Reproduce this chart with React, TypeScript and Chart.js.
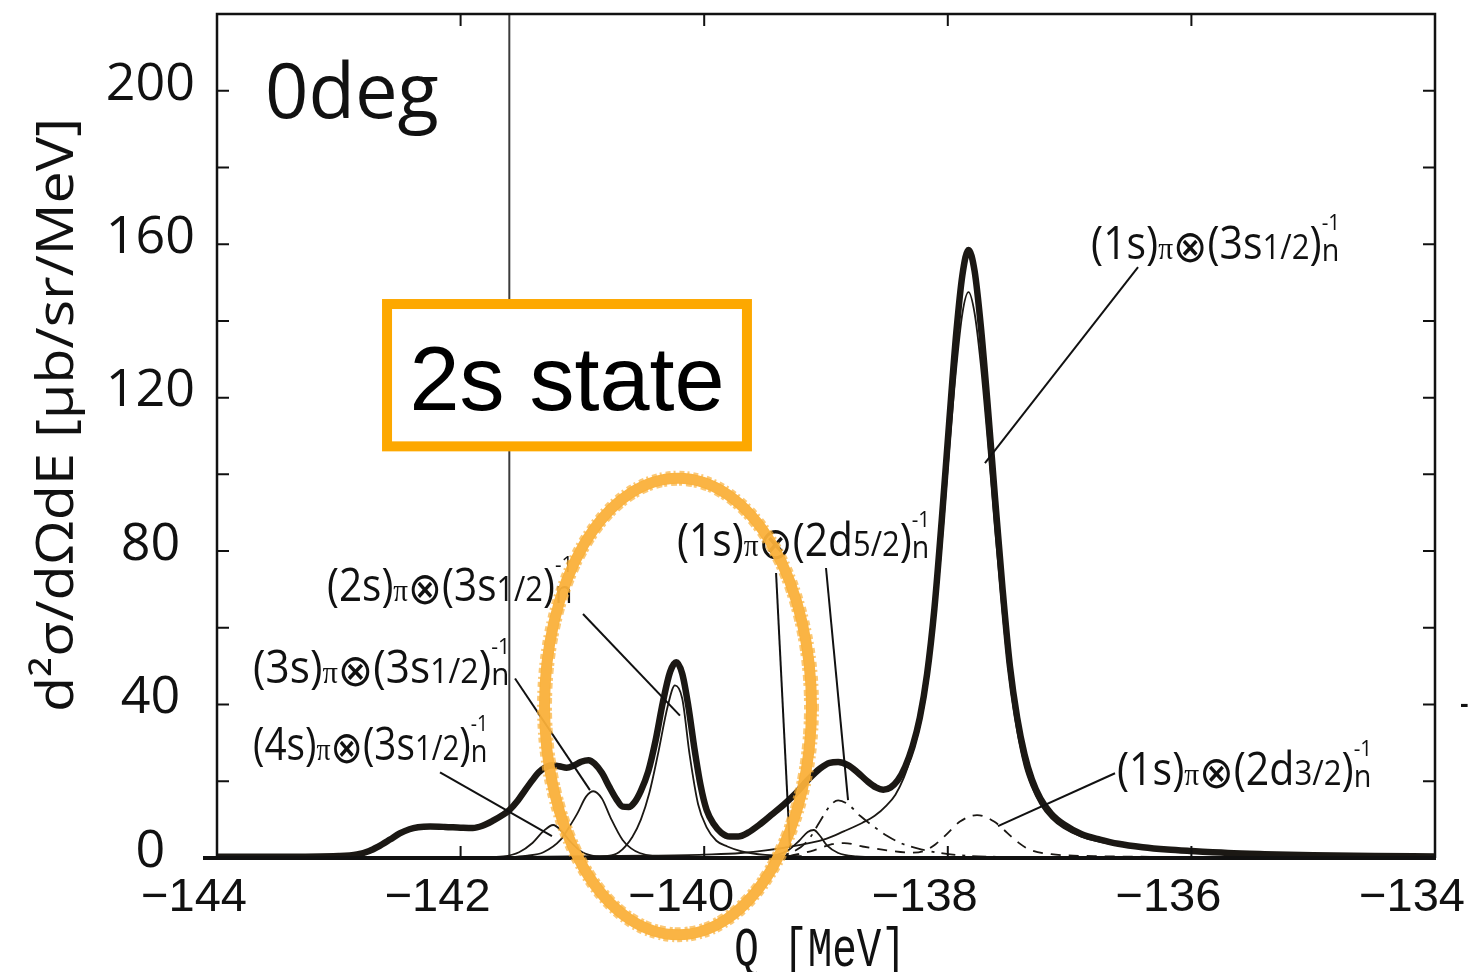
import React, { useEffect, useRef } from "react";
import { Chart, registerables } from "chart.js";

Chart.register(...registerables);

// ---------- axes ----------
const Q_MIN = -144;
const Q_MAX = -134;
const Y_MIN = 0;
const Y_MAX = 220;
const X_TICK_LABELS = [-144, -142, -140, -138, -136, -134];
const Y_TICK_LABELS = [0, 40, 80, 120, 160, 200];
const X_TICK_MARKS = [-142, -140, -138, -136];
const Y_TICK_MARKS = [20, 40, 60, 80, 100, 120, 140, 160, 180, 200];
const MARKER_Q = -141.6;

// ---------- series: [Q (MeV), d2sigma/dOmega dE] ----------
const TOTAL = [
  [-144.0, 0.3], [-143.5, 0.3], [-143.0, 0.5], [-142.85, 0.9], [-142.75, 1.8], [-142.68, 2.9],
  [-142.58, 4.8], [-142.5, 6.4], [-142.42, 7.5], [-142.35, 8.0], [-142.25, 8.2], [-142.13, 8.1],
  [-142.0, 7.9], [-141.9, 7.8], [-141.82, 8.4], [-141.73, 9.8], [-141.65, 11.3], [-141.6, 12.5],
  [-141.53, 15.0], [-141.47, 17.7], [-141.41, 20.3], [-141.36, 22.3], [-141.3, 23.7], [-141.25, 24.2],
  [-141.19, 23.9], [-141.13, 23.5], [-141.07, 24.1], [-141.01, 25.1], [-140.95, 25.5], [-140.9, 24.6],
  [-140.84, 22.2], [-140.78, 18.6], [-140.72, 15.3], [-140.67, 13.4], [-140.62, 13.3], [-140.57, 14.6],
  [-140.52, 17.5], [-140.46, 22.5], [-140.4, 30.5], [-140.34, 40.5], [-140.28, 48.5], [-140.23, 51.0],
  [-140.18, 48.0], [-140.13, 39.5], [-140.08, 28.5], [-140.03, 19.0], [-139.98, 12.5], [-139.92, 8.8],
  [-139.86, 6.6], [-139.79, 5.6], [-139.72, 5.6], [-139.64, 6.6], [-139.55, 8.6], [-139.45, 11.2],
  [-139.35, 13.8], [-139.25, 16.8], [-139.15, 20.3], [-139.05, 23.3], [-138.97, 24.8], [-138.9, 25.0],
  [-138.82, 24.2], [-138.74, 22.3], [-138.66, 20.0], [-138.59, 18.4], [-138.53, 17.8], [-138.47, 18.4],
  [-138.41, 20.3], [-138.35, 23.8], [-138.29, 29.0], [-138.23, 36.5], [-138.17, 48.0], [-138.11, 65.0],
  [-138.05, 88.0], [-137.99, 113.0], [-137.93, 137.0], [-137.88, 152.0], [-137.83, 158.5], [-137.78, 153.0],
  [-137.73, 139.0], [-137.67, 117.0], [-137.61, 93.0], [-137.55, 70.0], [-137.49, 50.0], [-137.43, 36.5],
  [-137.37, 27.0], [-137.31, 20.5], [-137.24, 15.5], [-137.15, 11.5], [-137.05, 8.8], [-136.9, 6.2],
  [-136.75, 4.8], [-136.6, 3.7], [-136.4, 2.8], [-136.2, 2.2], [-136.0, 1.8], [-135.7, 1.3],
  [-135.4, 1.0], [-135.0, 0.7], [-134.5, 0.5], [-134.0, 0.4],
];

const S1_3S12 = [
  [-144.0, 0.1], [-141.5, 0.3], [-140.5, 0.6], [-140.0, 0.9], [-139.7, 1.3], [-139.3, 2.9],
  [-139.0, 5.0], [-138.85, 7.0], [-138.7, 9.2], [-138.6, 11.0], [-138.5, 13.8], [-138.43, 16.5],
  [-138.36, 21.0], [-138.3, 26.5], [-138.23, 34.5], [-138.17, 45.0], [-138.11, 61.0], [-138.05, 82.0],
  [-137.99, 106.0], [-137.93, 128.0], [-137.88, 142.0], [-137.83, 147.5], [-137.78, 142.0], [-137.73, 129.0],
  [-137.67, 108.0], [-137.61, 85.0], [-137.55, 64.0], [-137.49, 46.0], [-137.43, 33.0], [-137.37, 24.0],
  [-137.31, 18.5], [-137.24, 14.0], [-137.15, 10.3], [-137.05, 7.8], [-136.9, 5.5], [-136.75, 4.2],
  [-136.6, 3.3], [-136.4, 2.5], [-136.2, 1.9], [-136.0, 1.5], [-135.5, 0.9], [-135.0, 0.6],
  [-134.5, 0.4], [-134.0, 0.3],
];

const S2_3S12 = [
  [-141.0, 0.2], [-140.8, 0.5], [-140.7, 1.5], [-140.59, 5.5], [-140.52, 10.0], [-140.45, 17.0],
  [-140.38, 27.0], [-140.3, 39.5], [-140.24, 45.0], [-140.18, 41.5], [-140.12, 27.0], [-140.05, 14.0],
  [-139.98, 8.0], [-139.9, 4.5], [-139.81, 3.0], [-139.7, 1.8], [-139.5, 0.8], [-139.2, 0.5],
];

const S3_3S12 = [
  [-141.6, 0.2], [-141.45, 0.6], [-141.32, 1.5], [-141.18, 4.7], [-141.1, 8.5], [-141.04, 11.7],
  [-140.97, 16.0], [-140.91, 17.4], [-140.84, 15.5], [-140.77, 10.6], [-140.67, 4.7], [-140.6, 2.5],
  [-140.53, 1.3], [-140.4, 0.4], [-140.2, 0.2],
];

const S4_3S12 = [
  [-141.85, 0.1], [-141.65, 0.4], [-141.52, 1.5], [-141.41, 3.9], [-141.32, 7.0], [-141.24, 8.6],
  [-141.17, 7.0], [-141.1, 4.3], [-141.0, 1.5], [-140.88, 0.4], [-140.7, 0.1],
];

const S1_2D52 = [
  [-139.5, 0.3], [-139.3, 1.2], [-139.15, 4.5], [-139.05, 9.5], [-138.97, 13.5], [-138.9, 15.0],
  [-138.82, 14.0], [-138.72, 11.0], [-138.6, 8.0], [-138.5, 5.8], [-138.38, 3.8], [-138.25, 2.5],
  [-138.1, 1.5], [-137.9, 0.7], [-137.6, 0.3], [-137.0, 0.1],
];

const S1_2D52_B = [
  [-139.45, 0.4], [-139.32, 1.8], [-139.22, 4.5], [-139.15, 6.8], [-139.1, 7.3], [-139.05, 5.8],
  [-138.99, 3.2], [-138.9, 1.3], [-138.75, 0.4], [-138.5, 0.1],
];

const S1_2D32 = [
  [-139.3, 0.5], [-139.1, 2.0], [-138.95, 3.6], [-138.85, 3.9], [-138.7, 3.0], [-138.5, 2.0],
  [-138.3, 1.4], [-138.2, 1.8], [-138.1, 3.6], [-138.0, 6.5], [-137.9, 9.5], [-137.76, 11.2],
  [-137.62, 9.5], [-137.51, 6.5], [-137.42, 4.0], [-137.33, 2.2], [-137.15, 1.0], [-136.8, 0.5],
  [-136.3, 0.3], [-135.5, 0.2], [-134.5, 0.1],
];

// ---------- annotations (data coordinates) ----------
const LABELS = [
  { pre: "(1s)", core: "(3s", frac: "1/2", q: -136.824, v: 156.1, dq: 2.044 },
  { pre: "(1s)", core: "(2d", frac: "5/2", q: -140.223, v: 78.7, dq: 2.077 },
  { pre: "(2s)", core: "(3s", frac: "1/2", q: -143.097, v: 67.0, dq: 2.02 },
  { pre: "(3s)", core: "(3s", frac: "1/2", q: -143.704, v: 45.7, dq: 2.11 },
  { pre: "(4s)", core: "(3s", frac: "1/2", q: -143.704, v: 25.5, dq: 1.929 },
  { pre: "(1s)", core: "(2d", frac: "3/2", q: -136.611, v: 19.0, dq: 2.094 },
];
const LEADERS = [
  [-136.438, 154.0, -137.695, 102.9],
  [-139.41, 74.3, -139.296, 2.6],
  [-139.0, 75.6, -138.819, 15.1],
  [-140.995, 63.6, -140.199, 37.1],
  [-141.553, 46.8, -140.938, 17.7],
  [-142.169, 22.3, -141.25, 5.7],
  [-136.627, 22.1, -137.588, 8.3],
];
const ANGLE_TEXT = { text: "0deg", q: -143.606, v: 193.0 };
const STATE_BOX = { text: "2s state", q1: -142.604, q2: -139.649, v1: 144.4, v2: 107.3, tq: -141.126, tv: 116.9 };
const CIRCLE = { q: -140.215, v: 39.5, dq: 1.096, dv: 59.5 };
const Y_TITLE = "d²σ/dΩdE [μb/sr/MeV]";
const X_TITLE = "Q [MeV]";

const INK = "#1b1814";

function drawRich(ctx: CanvasRenderingContext2D, px: number, py: number, wpx: number, lab: any) {
  const S = 45;
  const parts = [
    { t: lab.pre, f: `${S}px "Open Sans", sans-serif`, dy: 0 },
    { t: "π", f: `${S * 0.72}px "Liberation Serif", serif`, dy: 0 },
    { t: "⊗", f: `${S * 1.0}px "DejaVu Sans", sans-serif`, dy: 3 },
    { t: lab.core, f: `${S}px "Open Sans", sans-serif`, dy: 0 },
    { t: lab.frac, f: `${S * 0.76}px "Open Sans", sans-serif`, dy: 0 },
    { t: ")", f: `${S}px "Open Sans", sans-serif`, dy: 0 },
    { t: "n", f: `${S * 0.7}px "Open Sans", sans-serif`, dy: 2 },
  ];
  const sup = { t: "-1", f: `${S * 0.5}px "Open Sans", sans-serif`, dy: -29 };
  const widths: number[] = [];
  let total = 0;
  for (const p of parts) {
    ctx.font = p.f;
    const w = ctx.measureText(p.t).width;
    widths.push(w);
    total += w;
  }
  ctx.font = sup.f;
  const supW = ctx.measureText(sup.t).width;
  total += Math.max(0, supW - widths[widths.length - 1]);
  const sx = wpx / total;
  ctx.save();
  ctx.translate(px, py);
  ctx.scale(sx, 1);
  ctx.fillStyle = "#111";
  ctx.textAlign = "left";
  ctx.textBaseline = "alphabetic";
  let cx = 0;
  let nStart = 0;
  parts.forEach((p, i) => {
    ctx.font = p.f;
    if (i === parts.length - 1) nStart = cx;
    ctx.fillText(p.t, cx, p.dy);
    cx += widths[i];
  });
  ctx.font = sup.f;
  ctx.fillText(sup.t, nStart, sup.dy);
  ctx.restore();
}

const decor = {
  id: "decor",
  beforeDatasetsDraw(chart: any) {
    const { ctx, chartArea: a, scales } = chart;
    const vx = scales.x.getPixelForValue(MARKER_Q);
    ctx.save();
    ctx.strokeStyle = "#3c3c3c";
    ctx.lineWidth = 2;
    ctx.beginPath();
    ctx.moveTo(vx, a.top);
    ctx.lineTo(vx, a.bottom);
    ctx.stroke();
    ctx.restore();
  },
  afterDatasetsDraw(chart: any) {
    const { ctx, chartArea: a, scales } = chart;
    const X = (q: number) => scales.x.getPixelForValue(q);
    const Y = (v: number) => scales.y.getPixelForValue(v);
    ctx.save();
    // frame
    ctx.strokeStyle = "#111";
    ctx.lineWidth = 2.5;
    ctx.beginPath();
    ctx.moveTo(a.left, a.bottom);
    ctx.lineTo(a.left, a.top);
    ctx.lineTo(a.right, a.top);
    ctx.lineTo(a.right, a.bottom);
    ctx.stroke();
    ctx.lineWidth = 4;
    ctx.beginPath();
    ctx.moveTo(a.left - 14, a.bottom);
    ctx.lineTo(a.right + 1, a.bottom);
    ctx.stroke();
    // inner ticks
    ctx.lineWidth = 2;
    const TL = 12;
    for (const v of Y_TICK_MARKS) {
      const py = Y(v);
      ctx.beginPath();
      ctx.moveTo(a.left, py);
      ctx.lineTo(a.left + TL, py);
      ctx.moveTo(a.right, py);
      ctx.lineTo(a.right - TL, py);
      ctx.stroke();
    }
    for (const q of X_TICK_MARKS) {
      const px = X(q);
      ctx.beginPath();
      ctx.moveTo(px, a.bottom);
      ctx.lineTo(px, a.bottom - TL);
      ctx.moveTo(px, a.top);
      ctx.lineTo(px, a.top + TL);
      ctx.stroke();
    }
    // leader lines
    ctx.strokeStyle = "#111";
    ctx.lineWidth = 2;
    for (const [q1, v1, q2, v2] of LEADERS) {
      ctx.beginPath();
      ctx.moveTo(X(q1), Y(v1));
      ctx.lineTo(X(q2), Y(v2));
      ctx.stroke();
    }
    // labels
    for (const lab of LABELS) {
      drawRich(ctx, X(lab.q), Y(lab.v), X(lab.q + lab.dq) - X(lab.q), lab);
    }
    // angle text
    ctx.fillStyle = "#111";
    ctx.font = '76px "Open Sans", sans-serif';
    ctx.textAlign = "left";
    ctx.textBaseline = "alphabetic";
    ctx.fillText(ANGLE_TEXT.text, X(ANGLE_TEXT.q), Y(ANGLE_TEXT.v));
    // state box
    const bx1 = X(STATE_BOX.q1), bx2 = X(STATE_BOX.q2);
    const by1 = Y(STATE_BOX.v1), by2 = Y(STATE_BOX.v2);
    ctx.fillStyle = "#ffffff";
    ctx.fillRect(bx1, by1, bx2 - bx1, by2 - by1);
    ctx.strokeStyle = "#fda800";
    ctx.lineWidth = 10;
    ctx.strokeRect(bx1, by1, bx2 - bx1, by2 - by1);
    ctx.fillStyle = "#000";
    ctx.font = '90px "Liberation Sans", Arial, sans-serif';
    ctx.textAlign = "center";
    ctx.fillText(STATE_BOX.text, X(STATE_BOX.tq), Y(STATE_BOX.tv));
    ctx.restore();
  },
  afterDraw(chart: any) {
    const { ctx, scales } = chart;
    const X = (q: number) => scales.x.getPixelForValue(q);
    const Y = (v: number) => scales.y.getPixelForValue(v);
    ctx.save();
    // hand-drawn ellipse
    const cx = X(CIRCLE.q), cy = Y(CIRCLE.v);
    const rx = X(CIRCLE.q + CIRCLE.dq) - cx;
    const ry = cy - Y(CIRCLE.v + CIRCLE.dv);
    ctx.strokeStyle = "rgba(250,176,58,0.95)";
    ctx.lineWidth = 11;
    ctx.beginPath();
    ctx.ellipse(cx, cy, rx, ry, 0, 0, Math.PI * 2);
    ctx.stroke();
    ctx.lineWidth = 3;
    ctx.strokeStyle = "rgba(250,176,58,0.7)";
    ctx.setLineDash([5, 3, 2, 4]);
    ctx.beginPath();
    ctx.ellipse(cx, cy, rx + 6, ry + 6, 0, 0, Math.PI * 2);
    ctx.stroke();
    ctx.setLineDash([3, 4, 6, 2]);
    ctx.beginPath();
    ctx.ellipse(cx, cy, rx - 6, ry - 6, 0, 0, Math.PI * 2);
    ctx.stroke();
    ctx.setLineDash([]);
    // y title
    ctx.fillStyle = "#111";
    ctx.font = '52px "Open Sans", sans-serif';
    ctx.textAlign = "center";
    ctx.textBaseline = "alphabetic";
    const tw = ctx.measureText(Y_TITLE).width;
    ctx.save();
    ctx.translate(73, 415);
    ctx.rotate(-Math.PI / 2);
    ctx.scale(594 / tw, 1);
    ctx.fillText(Y_TITLE, 0, 0);
    ctx.restore();
    // x title
    ctx.save();
    ctx.font = '56px "Liberation Mono", monospace';
    ctx.translate(820, 966);
    ctx.scale(0.73, 1);
    ctx.fillText(X_TITLE, 0, 0);
    ctx.restore();
    // stray mark at right edge
    ctx.font = 'bold 26px "Liberation Sans", sans-serif';
    ctx.textAlign = "left";
    ctx.fillText("-", 1460, 712);
    ctx.restore();
  },
};

const toPts = (arr: number[][]) => arr.map(([x, y]) => ({ x, y }));

export default function App() {
  const ref = useRef<HTMLCanvasElement | null>(null);
  useEffect(() => {
    document.body.style.margin = "0";
    document.body.style.overflow = "hidden";
    const canvas = ref.current!;
    const thin = (data: number[][], dash: number[] = []) => ({
      data: toPts(data),
      borderColor: INK,
      borderWidth: 1.8,
      borderDash: dash,
      pointRadius: 0,
      cubicInterpolationMode: "monotone" as const,
      fill: false,
    });
    const chart = new Chart(canvas, {
      type: "line",
      data: {
        datasets: [
          {
            label: "total",
            data: toPts(TOTAL),
            borderColor: INK,
            borderWidth: 6.5,
            pointRadius: 0,
            cubicInterpolationMode: "monotone",
            fill: false,
          },
          { label: "(1s)π⊗(3s1/2)n-1", ...thin(S1_3S12) },
          { label: "(2s)π⊗(3s1/2)n-1", ...thin(S2_3S12) },
          { label: "(3s)π⊗(3s1/2)n-1", ...thin(S3_3S12) },
          { label: "(4s)π⊗(3s1/2)n-1", ...thin(S4_3S12) },
          { label: "(1s)π⊗(2d5/2)n-1", ...thin(S1_2D52, [14, 7, 3, 7]) },
          { label: "(1s)π⊗(2d5/2)n-1 b", ...thin(S1_2D52_B) },
          { label: "(1s)π⊗(2d3/2)n-1", ...thin(S1_2D32, [10, 8]) },
        ] as any,
      },
      options: {
        animation: false,
        responsive: false,
        devicePixelRatio: 1,
        layout: { padding: { top: 14, right: 35, left: 0, bottom: 0 } },
        plugins: { legend: { display: false }, tooltip: { enabled: false } },
        scales: {
          x: {
            type: "linear",
            min: Q_MIN,
            max: Q_MAX,
            grid: { display: false, drawTicks: false },
            border: { display: false },
            afterBuildTicks: (s: any) => {
              s.ticks = X_TICK_LABELS.map((v) => ({ value: v }));
            },
            afterFit: (s: any) => {
              s.height = 114;
              s.paddingLeft = 0;
              s.paddingRight = 0;
            },
            ticks: {
              callback: (v: any) => (Number(v) < 0 ? "\u2212" + Math.abs(Number(v)) : String(v)),
              font: { family: '"Liberation Sans", Arial, sans-serif', size: 47 },
              color: "#111",
              padding: 12,
              labelOffset: -23,
              maxRotation: 0,
              autoSkip: false,
            },
          },
          y: {
            type: "linear",
            min: Y_MIN,
            max: Y_MAX,
            grid: { display: false, drawTicks: false },
            border: { display: false },
            afterBuildTicks: (s: any) => {
              s.ticks = Y_TICK_LABELS.map((v) => ({ value: v }));
            },
            afterFit: (s: any) => {
              s.width = 217;
              s.paddingTop = 0;
              s.paddingBottom = 0;
            },
            ticks: {
              font: { family: '"Open Sans", sans-serif', size: 52 },
              color: "#111",
              crossAlign: "center",
              padding: 22,
              labelOffset: -6,
              autoSkip: false,
            },
          },
        },
      } as any,
      plugins: [decor],
    });
    return () => chart.destroy();
  }, []);
  return (
    <div style={{ width: 1470, height: 972 }}>
      <canvas ref={ref} width={1470} height={972} style={{ display: "block" }} />
    </div>
  );
}
